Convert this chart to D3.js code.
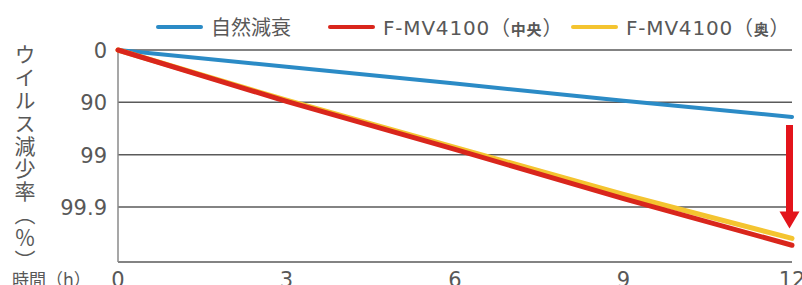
<!DOCTYPE html>
<html>
<head>
<meta charset="utf-8">
<script src="https://cdn.jsdelivr.net/npm/d3@7"></script>
<style>
  body { margin: 0; background: #fff; }
  svg { display: block; }
  text { font-family: "DejaVu Sans", "Noto Sans CJK JP", sans-serif; fill: #585858; }
</style>
</head>
<body>
<div id="chart"></div>
<script>
// ----- data ----- //
const hours = [0, 3, 6, 9, 12];
const natural = [0, 0.32, 0.64, 0.97, 1.28];      // log reduction
const center = [0, 0.98, 1.9, 2.84, 3.73];
const back = [0, 0.96, 1.86, 2.76, 3.6];
const yTickValues = [0, 1, 2, 3];
const yTickLabels = ["0", "90", "99", "99.9"];
const seriesNames = ["自然減衰", "F-MV4100", "F-MV4100"];
const seriesNotes = ["", "中央", "奥"];
const colors = ["#2b8bc6", "#d9261c", "#f4c430"];

const W = 802, H = 285;
const margin = {top: 50, right: 10, bottom: 23, left: 118};

const svg = d3.select("#chart").append("svg")
    .attr("width", W)
    .attr("height", H);

const x = d3.scaleLinear().domain([0, 12]).range([margin.left, W - margin.right]);
const y = d3.scaleLinear().domain([0, 4.05]).range([margin.top, H - margin.bottom]);

// gridlines
svg.append("g").selectAll("line")
    .data(yTickValues.concat([4.05]))
    .join("line")
    .attr("x1", x(0)).attr("x2", x(12))
    .attr("y1", d => y(d)).attr("y2", d => y(d))
    .attr("stroke", "#5a5a5a")
    .attr("stroke-width", 1.5);

// left axis line
svg.append("line")
    .attr("x1", x(0)).attr("x2", x(0))
    .attr("y1", y(0)).attr("y2", y(4.05))
    .attr("stroke", "#8a8a8a")
    .attr("stroke-width", 1.5);

// y tick labels
svg.append("g").selectAll("text")
    .data(yTickValues)
    .join("text")
    .attr("x", 107)
    .attr("y", d => y(d) + 8)
    .attr("text-anchor", "end")
    .style("font-size", "21px")
    .text((d, i) => yTickLabels[i]);

// x tick labels
svg.append("g").selectAll("text")
    .data(hours)
    .join("text")
    .attr("x", d => x(d))
    .attr("y", 287)
    .attr("text-anchor", "middle")
    .style("font-size", "21px")
    .text(d => d);

svg.append("text")
    .attr("x", 12).attr("y", 286)
    .style("font-size", "17px")
    .text("時間（h）");

// y title (vertical)
svg.append("text")
    .attr("x", 25).attr("y", 44)
    .style("writing-mode", "vertical-rl")
    .style("font-size", "21px")
    .style("letter-spacing", "1.8px")
    .style("font-family", "'Noto Sans CJK JP', sans-serif")
    .text("ウイルス減少率（％）");

// lines
const line = d3.line().x((d, i) => x(hours[i])).y(d => y(d));
const allSeries = [natural, back, center];
const order = [0, 2, 1];
allSeries.forEach((s, k) => {
  svg.append("path")
      .datum(s)
      .attr("fill", "none")
      .attr("stroke", colors[order[k]])
      .attr("stroke-width", k == 0 ? 4 : 5)
      .attr("stroke-linecap", "round")
      .attr("d", line);
});

// arrow
const ax = x(12) - 2.5;
const aTop = y(natural[4]) + 8;
const aTip = y(back[4]) - 10;
svg.append("rect")
    .attr("x", ax - 3.5).attr("y", aTop)
    .attr("width", 7).attr("height", aTip - 16 - aTop)
    .attr("fill", "#e3141b");
svg.append("path")
    .attr("d", `M${ax - 10},${aTip - 17} L${ax + 10},${aTip - 17} L${ax},${aTip} Z`)
    .attr("fill", "#e3141b");

// legend
const legendX = [158, 330, 573];
const legend = svg.append("g");
seriesNames.forEach((name, i) => {
  legend.append("line")
      .attr("x1", legendX[i]).attr("x2", legendX[i] + 43)
      .attr("y1", 27).attr("y2", 27)
      .attr("stroke", colors[i])
      .attr("stroke-width", 4)
      .attr("stroke-linecap", "round");
  const t = legend.append("text")
      .attr("x", legendX[i] + 53)
      .attr("y", 35)
      .style("font-size", "20px")
      .style("letter-spacing", i ? "0.8px" : "0px")
      .text(name);
  if (seriesNotes[i]) {
    t.append("tspan").style("font-family", "'Noto Sans CJK JP', sans-serif").text("（");
    t.append("tspan").style("font-size", "15px").style("font-weight", "bold")
      .style("font-family", "'Noto Sans CJK JP', sans-serif").text(seriesNotes[i]);
    t.append("tspan").style("font-family", "'Noto Sans CJK JP', sans-serif").text("）");
  }
});
</script>
</body>
</html>
